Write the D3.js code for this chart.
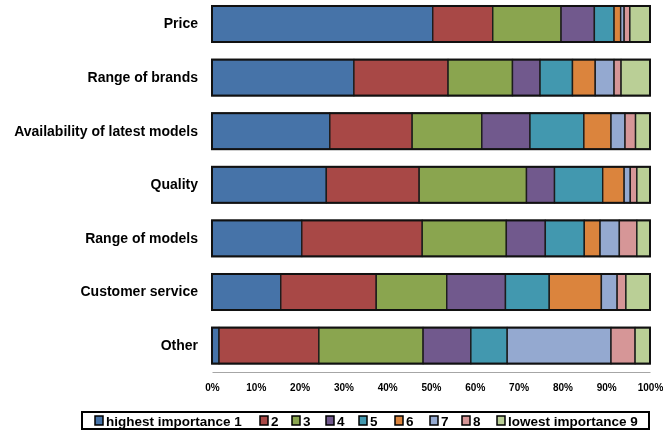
<!DOCTYPE html>
<html>
<head>
<meta charset="utf-8">
<script src="https://cdn.jsdelivr.net/npm/d3@7"></script>
<style>
  html, body { margin: 0; padding: 0; background: #fff; }
  svg { display: block; }
  text { font-family: "Liberation Sans", Arial, sans-serif; font-weight: bold; fill: #000; }
</style>
</head>
<body>
<svg id="chart" width="663" height="432"></svg>
<script>
// Importance factors, top to bottom
const categories = ["Price", "Range of brands", "Availability of latest models", "Quality",
                    "Range of models", "Customer service", "Other"];

// Share of respondents (%) giving each rank, one array per rank, in category order
const rank1 = [50.4, 32.4, 26.9, 26.1, 20.5, 15.7, 1.6];
const rank2 = [13.7, 21.5, 18.8, 21.2, 27.5, 21.8, 22.8];
const rank3 = [15.6, 14.7, 15.9, 24.5, 19.2, 16.1, 23.8];
const rank4 = [7.6, 6.3, 11.0, 6.4, 8.9, 13.4, 10.9];
const rank5 = [4.5, 7.4, 12.3, 11.0, 8.9, 10.0, 8.3];
const rank6 = [1.5, 5.2, 6.2, 4.9, 3.6, 11.9, 0];
const rank7 = [0.8, 4.3, 3.2, 1.4, 4.4, 3.6, 23.7];
const rank8 = [1.3, 1.6, 2.4, 1.5, 4.0, 2.0, 5.5];
const rank9 = [4.6, 6.6, 3.3, 3.0, 3.0, 5.5, 3.4];

const seriesNames = ["highest importance 1", "2", "3", "4", "5", "6", "7", "8", "lowest importance 9"];
const seriesColors = ["#4673a8", "#a84846", "#8aa54f", "#71598d", "#4298af",
                      "#db843d", "#94a9d0", "#d69697", "#bacf96"];
const tickValues = [0, 10, 20, 30, 40, 50, 60, 70, 80, 90, 100];

const rankArrays = [rank1, rank2, rank3, rank4, rank5, rank6, rank7, rank8, rank9];
const keys = seriesNames.map((_, i) => "r" + (i + 1));
const rows = categories.map((c, ci) => {
  const row = { category: c };
  rankArrays.forEach((arr, si) => { row[keys[si]] = arr[ci]; });
  return row;
});

const svg = d3.select("#chart");

// soft edges on the lettering
const defs = svg.append("defs");
defs.append("filter").attr("id", "soft")
  .attr("x", "-5%").attr("y", "-20%").attr("width", "110%").attr("height", "140%")
  .append("feGaussianBlur").attr("stdDeviation", 0.55);

const x = d3.scaleLinear().domain([0, 100]).range([212, 650]);
const y = d3.scaleBand().domain(categories).range([-2.8, 372.4])
  .paddingInner(0.328).paddingOuter(0.164);
const color = d3.scaleOrdinal().domain(keys).range(seriesColors);

const stacked = d3.stack().keys(keys)(rows);

// stacked segments
const g = svg.append("g");
g.selectAll("g.series")
  .data(stacked)
  .join("g")
  .attr("class", "series")
  .attr("fill", d => color(d.key))
  .selectAll("rect")
  .data(d => d.filter(s => s[1] - s[0] > 0))
  .join("rect")
  .attr("x", d => x(d[0]))
  .attr("y", d => y(d.data.category))
  .attr("width", d => x(d[1]) - x(d[0]))
  .attr("height", y.bandwidth())
  .attr("stroke", "#1c1c1c")
  .attr("stroke-width", 1.4);

// heavier outline around each whole bar
g.selectAll("rect.outline")
  .data(rows)
  .join("rect")
  .attr("class", "outline")
  .attr("x", x(0))
  .attr("y", d => y(d.category))
  .attr("width", x(100) - x(0))
  .attr("height", y.bandwidth())
  .attr("fill", "none")
  .attr("stroke", "#111")
  .attr("stroke-width", 2);

// category axis (labels only)
const yAxis = svg.append("g")
  .attr("transform", `translate(${x(0)},0)`)
  .call(d3.axisLeft(y).tickSize(0).tickPadding(14));
yAxis.select(".domain").remove();
yAxis.selectAll("text")
  .attr("font-size", 14)
  .attr("font-family", "Liberation Sans, Arial, sans-serif")
  .attr("font-weight", "bold")
  .attr("filter", "url(#soft)");

// percentage axis
const xAxis = svg.append("g")
  .attr("transform", "translate(0,372)")
  .call(d3.axisBottom(x).tickValues(tickValues).tickFormat(d => d + "%").tickSize(0).tickPadding(12));
xAxis.select(".domain").attr("stroke", "#a6a6a6").attr("stroke-width", 1.2);
xAxis.selectAll("text")
  .attr("font-size", 10)
  .attr("font-family", "Liberation Sans, Arial, sans-serif")
  .attr("font-weight", "bold")
  .attr("filter", "url(#soft)");

// legend
const legend = svg.append("g");
legend.append("rect")
  .attr("x", 82).attr("y", 412).attr("width", 567).attr("height", 17)
  .attr("fill", "#fff").attr("stroke", "#000").attr("stroke-width", 2);

const legendX = [95, 260, 292, 326, 359, 395, 430, 462, 497];
const items = legend.selectAll("g.item")
  .data(keys)
  .join("g")
  .attr("class", "item")
  .attr("transform", (d, i) => `translate(${legendX[i]},416)`);
items.append("rect")
  .attr("width", 8).attr("height", 9)
  .attr("fill", d => color(d))
  .attr("stroke", "#000").attr("stroke-width", 1.5);
items.append("text")
  .attr("x", 11).attr("y", 9.5)
  .attr("font-size", 13.5)
  .attr("filter", "url(#soft)")
  .text((d, i) => seriesNames[i]);
</script>
</body>
</html>
